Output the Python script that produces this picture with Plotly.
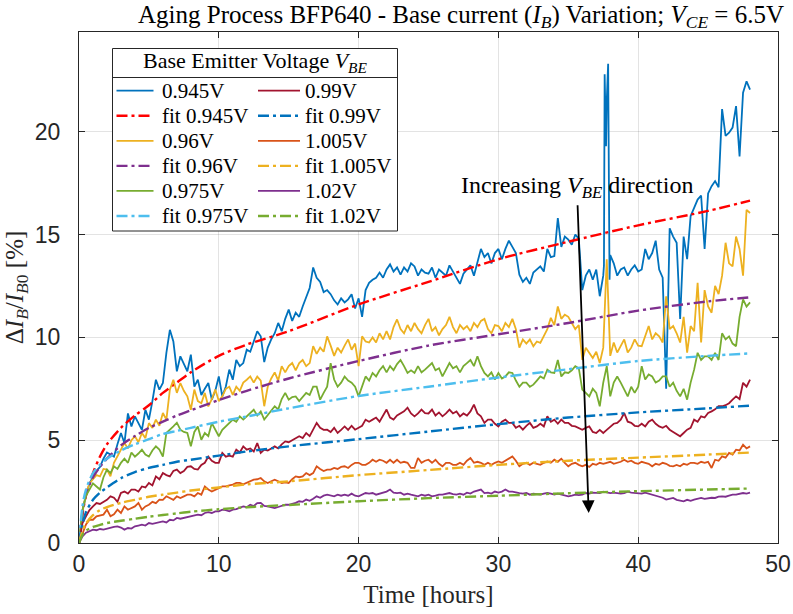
import numpy as np
import plotly.graph_objects as go

# ---------------- data (hours, % change) ----------------
T = np.round(np.arange(0, 48.001, 0.25), 2)

V0945 = [
    0, 1.6, 2.3, 2.9,            # 0
    3.2, 3.5, 3.7, 4.1,          # 1
    4.4, 4.3, 4.2, 4.8,          # 2
    5.35, 4.86, 6.3, 5.67,       # 3
    6.16, 5.83, 5.5, 6.48,       # 4
    6.0, 6.9, 7.94, 7.46,        # 5
    7.78, 9.24, 10.37, 9.8,      # 6
    8.35, 9.08, 8.75, 8.35,      # 7
    9.16, 7.6, 7.94, 7.2,        # 8
    7.5, 7.78, 6.97, 7.4,        # 9
    8.1, 7.13, 7.6, 8.43,        # 10
    7.94, 8.9, 8.6, 8.75,        # 11
    9.4, 9.3, 9.8, 10.3,         # 12
    10.05, 8.8, 9.5, 9.9,        # 13
    10.2, 10.7, 10.3, 10.9,      # 14
    11.35, 10.8, 11.2, 11.0,     # 15
    11.5, 12.0, 12.4, 13.4,      # 16
    12.9, 12.7, 12.2, 12.3,      # 17
    12.1, 11.8, 11.6, 11.9,      # 18
    11.7, 11.85, 12.1, 11.4,     # 19
    11.9, 11.0, 12.3, 12.65,     # 20
    12.8, 12.9, 13.15, 12.9,     # 21
    13.3, 13.55, 13.2, 13.4,     # 22
    13.05, 13.4, 13.2, 13.6,     # 23
    13.45, 13.0, 13.3, 13.15,    # 24
    13.1, 13.4, 12.9, 13.3,      # 25
    13.15, 13.0, 13.5, 13.2,     # 26
    12.9, 12.6, 13.1, 13.3,      # 27
    13.5, 13.0, 13.7, 14.3,      # 28
    13.9, 14.1, 13.6, 14.1,      # 29
    14.3, 13.8, 14.3, 14.7,      # 30
    14.4, 14.1, 13.05, 12.7,     # 31
    12.9, 12.6, 13.15, 13.3,     # 32
    13.45, 13.2, 14.3, 13.9,     # 33
    13.95, 15.8, 14.4, 14.9,     # 34
    14.75, 14.5, 15.0, 14.8,     # 35
    12.3, 13.0, 13.3, 12.8,      # 36
    13.3, 12.0, 13.0, 21.5,      # 37
    14.0, 13.6, 13.0, 13.3,      # 38
    13.4, 13.0, 13.3, 13.5,      # 39
    13.2, 13.3, 14.3, 13.8,      # 40
    14.1, 14.7, 13.3, 12.9,      # 41
    7.5, 15.3, 14.9, 14.6,       # 42
    10.9, 14.9, 13.8, 15.9,      # 43
    16.3, 16.7, 16.9, 14.3,      # 44
    17.0, 17.35, 17.6, 17.3,     # 45
    21.1, 19.8, 19.95, 20.2,     # 46
    21.25, 18.8, 21.9, 22.45,    # 47
    22.05,
]
SPIKE_T = [37.55, 37.6, 37.7, 37.85, 37.95]
SPIKE_V0945 = [13.5, 22.8, 19.3, 23.3, 12.8]

V0960 = [
    0, 1.5, 2.4, 2.9,            # 0
    3.1, 3.3, 3.24, 3.6,         # 1
    3.57, 3.24, 3.9, 4.2,        # 2
    4.5, 4.86, 4.6, 5.0,         # 3
    5.19, 4.9, 5.35, 5.1,        # 4
    5.83, 5.6, 6.0, 5.7,         # 5
    6.32, 6.0, 7.46, 7.94,       # 6
    7.3, 7.78, 7.4, 7.13,        # 7
    6.48, 7.46, 6.9, 6.8,        # 8
    7.3, 6.64, 7.0, 7.46,        # 9
    6.9, 7.13, 7.5, 7.6,         # 10
    7.2, 7.6, 7.4, 7.8,          # 11
    7.94, 8.1, 7.8, 8.1,         # 12
    7.9, 6.65, 7.6, 8.0,         # 13
    8.3, 7.9, 8.6, 8.3,          # 14
    8.6, 8.75, 8.4, 8.75,        # 15
    8.9, 8.6, 8.75, 9.57,        # 16
    9.2, 9.5, 9.3, 10.05,        # 17
    9.6, 9.1, 9.5, 9.26,         # 18
    9.6, 9.9, 9.4, 9.7,          # 19
    8.6, 10.05, 9.8, 9.75,       # 20
    10.0, 9.75, 10.2, 9.9,       # 21
    10.3, 9.9, 10.5, 10.87,      # 22
    10.4, 10.2, 10.6, 10.3,      # 23
    10.7, 10.4, 10.2, 10.6,      # 24
    10.9, 10.3, 10.5, 10.1,      # 25
    10.4, 10.6, 11.0, 10.5,      # 26
    10.2, 10.6, 10.4, 10.55,     # 27
    10.3, 10.7, 10.5, 10.8,      # 28
    10.9, 10.4, 10.2, 10.6,      # 29
    10.55, 10.3, 10.7, 10.5,     # 30
    10.9, 10.4, 9.5, 9.9,        # 31
    9.7, 9.9, 9.57, 9.8,         # 32
    9.73, 10.1, 10.4, 10.95,     # 33
    10.6, 11.5, 10.9, 11.1,      # 34
    11.0, 10.7, 10.4, 10.6,      # 35
    8.9, 9.5, 9.26, 9.0,         # 36
    9.3, 8.75, 9.5, 13.8,        # 37
    9.1, 9.75, 9.26, 9.6,        # 38
    9.9, 9.26, 9.5, 9.9,         # 39
    9.6, 9.57, 10.1, 10.55,      # 40
    9.9, 10.2, 10.05, 9.75,      # 41
    12.0, 10.4, 10.55, 10.2,     # 42
    9.75, 11.0, 9.26, 10.55,     # 43
    10.3, 12.65, 9.75, 12.3,     # 44
    11.5, 11.2, 12.5, 12.1,      # 45
    13.0, 14.6, 13.6, 13.45,     # 46
    14.9, 14.3, 13.0, 16.2,      # 47
    16.05,
]

V0975 = [
    0, 1.6, 2.3, 2.6,            # 0
    2.9, 2.75, 2.6, 3.2,         # 1
    3.57, 3.4, 3.73, 3.6,        # 2
    3.9, 4.1, 3.9, 4.4,          # 3
    4.2, 4.35, 4.54, 4.3,        # 4
    4.2, 4.5, 4.7, 4.54,         # 5
    4.2, 5.35, 5.5, 5.67,        # 6
    5.85, 5.51, 5.4, 5.35,       # 7
    4.7, 5.4, 5.67, 5.02,        # 8
    5.35, 5.2, 5.83, 5.5,        # 9
    5.19, 5.5, 5.67, 5.85,       # 10
    6.0, 5.9, 6.16, 6.0,         # 11
    6.16, 6.32, 6.48, 6.2,       # 12
    6.4, 6.0, 6.2, 6.4,          # 13
    6.65, 6.5, 7.0, 7.3,         # 14
    6.97, 7.1, 7.13, 6.9,        # 15
    7.13, 7.3, 7.2, 7.6,         # 16
    7.6, 6.97, 7.3, 7.6,         # 17
    8.75, 7.95, 7.6, 7.8,        # 18
    8.1, 7.9, 7.8, 7.6,          # 19
    7.13, 7.6, 8.1, 7.9,         # 20
    8.27, 8.1, 8.4, 8.6,         # 21
    8.3, 8.6, 8.4, 8.7,          # 22
    8.9, 8.6, 8.27, 8.4,         # 23
    8.27, 8.6, 8.3, 8.43,        # 24
    8.6, 8.75, 8.4, 8.5,         # 25
    8.1, 8.4, 8.75, 8.5,         # 26
    8.6, 8.3, 8.6, 8.75,         # 27
    8.9, 8.6, 9.08, 8.6,         # 28
    8.27, 8.1, 8.3, 7.95,        # 29
    8.27, 8.0, 8.1, 8.3,         # 30
    8.27, 7.9, 7.6, 7.8,         # 31
    7.8, 7.6, 7.7, 7.9,          # 32
    8.1, 8.0, 8.43, 8.3,         # 33
    8.27, 8.9, 8.1, 8.3,         # 34
    8.27, 8.4, 8.6, 8.5,         # 35
    7.46, 7.3, 7.13, 7.5,        # 36
    7.3, 6.65, 7.8, 8.6,         # 37
    7.13, 7.8, 8.1, 7.8,         # 38
    7.46, 7.13, 7.6, 7.3,        # 39
    7.6, 8.6, 7.95, 8.2,         # 40
    8.1, 7.8, 7.9, 8.1,          # 41
    8.1, 7.6, 7.8, 7.4,          # 42
    7.13, 7.5, 6.97, 7.8,        # 43
    8.43, 9.25, 8.9, 9.08,       # 44
    9.08, 8.9, 9.25, 8.9,        # 45
    10.2, 9.9, 10.05, 9.7,       # 46
    9.57, 11.0, 11.85, 11.5,     # 47
    11.7,
]

V0990 = [
    0, 0.97, 1.3, 1.6,           # 0
    1.78, 1.94, 1.9, 2.0,        # 1
    2.1, 2.27, 2.2, 2.0,         # 2
    2.43, 2.5, 2.4, 2.6,         # 3
    2.6, 2.5, 2.75, 2.7,         # 4
    2.92, 2.8, 3.24, 3.1,        # 5
    3.4, 3.3, 3.24, 3.5,         # 6
    3.57, 3.4, 3.5, 3.7,         # 7
    3.73, 3.6, 3.57, 3.8,        # 8
    3.9, 4.2, 4.0, 3.9,          # 9
    3.9, 4.38, 4.2, 4.25,        # 10
    4.2, 4.54, 4.4, 4.7,         # 11
    4.54, 4.6, 4.45, 4.86,       # 12
    4.38, 4.54, 4.5, 4.6,        # 13
    4.7, 4.6, 4.8, 4.94,         # 14
    4.9, 5.0, 5.1, 5.19,         # 15
    5.1, 5.35, 5.2, 5.5,         # 16
    5.84, 5.6, 5.5, 5.51,        # 17
    5.4, 5.6, 5.35, 5.5,         # 18
    5.67, 5.5, 5.7, 5.51,        # 19
    5.6, 5.7, 6.0, 5.9,          # 20
    6.0, 6.1, 5.9, 6.2,          # 21
    6.49, 6.1, 6.0, 6.2,         # 22
    6.32, 6.4, 6.58, 6.3,        # 23
    6.16, 6.3, 6.49, 6.32,       # 24
    6.3, 6.49, 6.2, 6.35,        # 25
    6.16, 6.3, 6.49, 6.3,        # 26
    6.4, 6.16, 6.3, 6.2,         # 27
    6.4, 6.73, 6.3, 6.16,        # 28
    5.84, 6.0, 6.0, 5.8,         # 29
    5.67, 5.9, 6.0, 5.84,        # 30
    5.84, 5.6, 5.7, 5.51,        # 31
    5.7, 5.84, 5.6, 5.67,        # 32
    5.8, 5.67, 6.16, 5.9,        # 33
    6.0, 5.8, 6.0, 5.84,         # 34
    5.84, 5.7, 5.67, 5.6,        # 35
    5.51, 5.6, 5.67, 5.4,        # 36
    5.35, 5.5, 5.35, 5.5,        # 37
    5.67, 5.8, 5.84, 6.0,        # 38
    6.32, 5.9, 5.84, 5.7,        # 39
    5.67, 5.8, 5.67, 5.9,        # 40
    6.0, 5.8, 5.67, 5.6,         # 41
    5.7, 5.51, 5.4, 5.3,         # 42
    5.19, 5.35, 5.51, 5.6,       # 43
    6.0, 5.9, 6.16, 6.1,         # 44
    6.32, 6.4, 6.5, 6.65,        # 45
    6.65, 6.7, 6.8, 6.97,        # 46
    7.13, 7.0, 7.79, 7.6,        # 47
    7.95,
]

V1005 = [
    0, 0.49, 0.9, 1.13,          # 0
    1.13, 1.3, 1.35, 1.38,       # 1
    1.62, 1.3, 1.4, 1.62,        # 2
    1.46, 1.78, 1.62, 1.7,       # 3
    1.78, 1.95, 1.62, 1.78,      # 4
    1.86, 2.0, 1.94, 2.11,       # 5
    2.1, 2.27, 2.19, 2.1,        # 6
    2.27, 2.19, 2.27, 2.35,      # 7
    2.35, 2.27, 2.43, 2.35,      # 8
    2.75, 2.6, 2.5, 2.6,         # 9
    2.67, 2.75, 2.75, 2.8,       # 10
    2.84, 2.92, 2.92, 2.85,      # 11
    2.92, 3.0, 3.08, 3.1,        # 12
    3.16, 3.0, 2.92, 3.0,        # 13
    3.08, 3.0, 2.92, 2.95,       # 14
    2.92, 3.1, 3.24, 3.2,        # 15
    3.24, 3.4, 3.3, 3.4,         # 16
    3.73, 3.6, 3.5, 3.57,        # 17
    3.57, 3.65, 3.6, 3.7,        # 18
    3.73, 3.65, 3.8, 3.9,        # 19
    3.9, 3.8, 3.8, 3.9,          # 20
    4.05, 3.95, 4.05, 4.0,       # 21
    3.9, 4.05, 3.9, 4.05,        # 22
    3.9, 3.95, 3.9, 3.65,        # 23
    3.65, 4.13, 3.9, 4.0,        # 24
    4.05, 3.9, 4.05, 3.85,       # 25
    3.73, 3.9, 3.9, 3.8,         # 26
    3.8, 3.9, 3.8, 4.0,          # 27
    4.13, 3.9, 3.95, 3.9,        # 28
    3.8, 3.9, 3.8, 3.9,          # 29
    3.97, 3.9, 4.0, 4.1,         # 30
    4.21, 4.0, 3.73, 3.85,       # 31
    3.9, 3.8, 3.9, 3.85,         # 32
    3.8, 3.9, 3.97, 3.9,         # 33
    4.05, 3.95, 4.1, 3.9,        # 34
    3.73, 3.85, 3.9, 3.8,        # 35
    3.73, 3.8, 3.7, 3.85,        # 36
    3.8, 3.9, 3.85, 3.9,         # 37
    3.95, 3.85, 3.9, 3.95,       # 38
    4.05, 3.95, 4.0, 3.9,        # 39
    3.85, 3.95, 3.9, 3.85,       # 40
    3.73, 3.85, 3.8, 3.9,        # 41
    3.85, 3.75, 3.73, 3.8,       # 42
    3.73, 3.85, 3.8, 3.9,        # 43
    3.9, 3.85, 3.95, 3.9,        # 44
    3.95, 3.65, 4.05, 4.0,       # 45
    4.21, 4.15, 4.38, 4.3,       # 46
    4.54, 4.5, 4.78, 4.6,        # 47
    4.7,
]

V1020 = [
    0, 0.32, 0.5, 0.57,          # 0
    0.65, 0.62, 0.68, 0.65,      # 1
    0.7, 0.73, 0.78, 0.81,       # 2
    0.75, 0.65, 0.73, 0.7,       # 3
    0.81, 0.85, 0.89, 0.85,      # 4
    0.97, 0.93, 0.97, 1.0,       # 5
    1.05, 1.0, 1.13, 1.1,        # 6
    1.22, 1.18, 1.22, 1.25,      # 7
    1.3, 1.35, 1.38, 1.35,       # 8
    1.46, 1.5, 1.46, 1.54,       # 9
    1.54, 1.62, 1.6, 1.54,       # 10
    1.62, 1.65, 1.7, 1.78,       # 11
    1.74, 1.86, 1.8, 1.94,       # 12
    1.95, 1.8, 1.78, 1.75,       # 13
    1.7, 1.75, 1.8, 1.86,        # 14
    1.86, 1.9, 1.95, 2.03,       # 15
    2.0, 2.11, 2.05, 2.15,       # 16
    2.27, 2.2, 2.3, 2.35,        # 17
    2.3, 2.27, 2.35, 2.3,        # 18
    2.35, 2.3, 2.4, 2.3,         # 19
    2.27, 2.35, 2.43, 2.4,       # 20
    2.43, 2.35, 2.4, 2.45,       # 21
    2.5, 2.6, 2.45, 2.43,        # 22
    2.45, 2.35, 2.4, 2.35,       # 23
    2.3, 2.27, 2.35, 2.3,        # 24
    2.35, 2.27, 2.3, 2.35,       # 25
    2.35, 2.4, 2.43, 2.38,       # 26
    2.35, 2.4, 2.35, 2.45,       # 27
    2.4, 2.5, 2.55, 2.6,         # 28
    2.43, 2.45, 2.4, 2.5,        # 29
    2.45, 2.5, 2.6, 2.5,         # 30
    2.5, 2.45, 2.43, 2.4,        # 31
    2.43, 2.35, 2.4, 2.38,       # 32
    2.35, 2.4, 2.43, 2.4,        # 33
    2.35, 2.4, 2.35, 2.3,        # 34
    2.27, 2.3, 2.35, 2.33,       # 35
    2.35, 2.43, 2.4, 2.45,       # 36
    2.45, 2.43, 2.5, 2.45,       # 37
    2.43, 2.45, 2.43, 2.4,       # 38
    2.43, 2.5, 2.45, 2.43,       # 39
    2.43, 2.4, 2.45, 2.4,        # 40
    2.35, 2.3, 2.27, 2.2,        # 41
    2.11, 2.15, 2.19, 2.1,       # 42
    2.05, 2.03, 2.1, 2.05,       # 43
    2.11, 2.15, 2.19, 2.15,      # 44
    2.19, 2.2, 2.19, 2.25,       # 45
    2.27, 2.25, 2.3, 2.35,       # 46
    2.35, 2.4, 2.43, 2.4,        # 47
    2.45,
]

# fitted curves
FIT_T = [0, 0.25, 0.5, 1, 1.5, 2, 3, 4, 5, 6, 7, 8, 10, 12, 15, 20, 25, 30, 35, 40, 45, 48]
FIT0945 = [0, 1.4, 2.3, 3.4, 4.2, 4.8, 5.6, 6.2, 6.7, 7.3, 7.8, 8.3, 9.1, 9.65, 10.3, 11.6, 12.7, 13.8, 14.65, 15.45, 16.15, 16.65]
FIT0960 = [0, 1.5, 2.4, 3.2, 3.7, 4.1, 4.75, 5.2, 5.6, 5.9, 6.2, 6.45, 6.95, 7.4, 8.0, 8.85, 9.6, 10.15, 10.7, 11.3, 11.75, 11.95]
FIT0975 = [0, 1.8, 2.6, 3.4, 3.8, 4.1, 4.5, 4.8, 5.05, 5.3, 5.45, 5.6, 5.9, 6.15, 6.55, 7.15, 7.6, 8.05, 8.45, 8.85, 9.1, 9.22]
FIT0990 = [0, 0.9, 1.5, 2.1, 2.45, 2.7, 3.15, 3.45, 3.65, 3.8, 3.95, 4.05, 4.25, 4.45, 4.7, 5.05, 5.42, 5.78, 6.1, 6.35, 6.55, 6.68]
FIT1005 = [0, 0.6, 0.95, 1.35, 1.6, 1.75, 1.95, 2.1, 2.25, 2.35, 2.45, 2.55, 2.7, 2.85, 3.0, 3.3, 3.55, 3.8, 4.0, 4.15, 4.3, 4.4]
FIT1020 = [0, 0.4, 0.6, 0.78, 0.88, 0.97, 1.08, 1.18, 1.28, 1.36, 1.44, 1.52, 1.64, 1.74, 1.85, 2.03, 2.18, 2.3, 2.42, 2.52, 2.6, 2.65]

LABELS = ["0.945V", "0.96V", "0.975V", "0.99V", "1.005V", "1.02V"]
DATA_COLORS = ["#0072BD", "#EDB120", "#77AC30", "#A2142F", "#D95319", "#7E2F8E"]
FIT_COLORS = ["#FF0000", "#7E2F8E", "#4DBEEE", "#0072BD", "#EDB120", "#77AC30"]

# merge the narrow spike samples of the 0.945 V record
t_b = np.concatenate([T, SPIKE_T])
v_b = np.concatenate([np.array(V0945, float), SPIKE_V0945])
order = np.argsort(t_b, kind="stable")
series_data = [
    (t_b[order], v_b[order]),
    (T, V0960), (T, V0975), (T, V0990), (T, V1005), (T, V1020),
]
series_fit = [FIT0945, FIT0960, FIT0975, FIT0990, FIT1005, FIT1020]

FIT_DASH = "11px,4px,3px,4px"
SERIF = "Liberation Serif"
SANS = "Liberation Sans"

fig = go.Figure()
for (tt, vv), fv, lab, dc, fc in zip(series_data, series_fit, LABELS, DATA_COLORS, FIT_COLORS):
    fig.add_trace(go.Scatter(x=tt, y=vv, mode="lines", name=lab,
                             line=dict(color=dc, width=1.8), showlegend=False))
    fig.add_trace(go.Scatter(x=FIT_T, y=fv, mode="lines", name="fit " + lab,
                             line=dict(color=fc, width=2.4, dash=FIT_DASH, shape="spline", smoothing=0.8),
                             showlegend=False))

# ---------------- manual two-column legend ----------------
W, H = 793, 614
ML, MR, MT, MB = 79, 15, 32, 71
PW, PH = W - ML - MR, H - MT - MB


def px(xp):
    return (xp - ML) / PW


def py(yp):
    return (H - MB - yp) / PH


shapes = [dict(type="rect", xref="paper", yref="paper", layer="above",
               x0=px(112.5), x1=px(397.5), y0=py(231), y1=py(48.5),
               line=dict(color="#262626", width=1), fillcolor="white"),
          dict(type="line", xref="paper", yref="paper", layer="above",
               x0=px(112.5), x1=px(397.5), y0=py(77.5), y1=py(77.5),
               line=dict(color="#262626", width=1))]
annotations = [dict(xref="paper", yref="paper", x=px(255), y=py(62),
                    text="Base Emitter Voltage <i>V</i><sub><i>BE</i></sub>",
                    showarrow=False, xanchor="center", yanchor="middle",
                    font=dict(family=SERIF, size=22, color="black"))]

entries = []
for lab, dc, fc in zip(LABELS, DATA_COLORS, FIT_COLORS):
    entries.append((lab, dc, "solid", 1.8))
    entries.append(("fit " + lab, fc, FIT_DASH, 2.4))
col_x = [(116.5, 153.5, 160), (258, 300, 302.5)]
for i, (txt, col, dash, wd) in enumerate(entries):
    c = i // 6
    r = i % 6
    yc = 90.7 + r * 25.06
    x0, x1, xt = col_x[c]
    shapes.append(dict(type="line", xref="paper", yref="paper", layer="above",
                       x0=px(x0), x1=px(x1), y0=py(yc), y1=py(yc),
                       line=dict(color=col, width=wd, dash=dash)))
    annotations.append(dict(xref="paper", yref="paper", x=px(xt), y=py(yc),
                            text=txt, showarrow=False, xanchor="left", yanchor="middle",
                            font=dict(family=SERIF, size=21, color="black")))

# direction arrow and its label
annotations.append(dict(x=36.46, y=1.46, ax=35.66, ay=16.5, xref="x", yref="y",
                        axref="x", ayref="y", text="", showarrow=True,
                        arrowhead=2, arrowsize=1.4, arrowwidth=1.8, arrowcolor="black",
                        standoff=0, startstandoff=0))
annotations.append(dict(x=35.62, y=17.3, xref="x", yref="y", showarrow=False,
                        text="Increasing <i>V</i><sub><i>BE</i></sub> direction",
                        xanchor="center", yanchor="middle",
                        font=dict(family=SERIF, size=24, color="black")))

axis_common = dict(showline=True, linecolor="#262626", linewidth=1, mirror="ticks",
                   ticks="inside", ticklen=6, tickcolor="#262626", automargin=False,
                   showgrid=True, gridcolor="rgba(38,38,38,0.13)", gridwidth=1,
                   zeroline=False, tickfont=dict(family=SANS, size=23, color="#262626"))

fig.update_layout(
    width=W, height=H, margin=dict(l=ML, r=MR, t=MT, b=MB),
    plot_bgcolor="white", paper_bgcolor="white", showlegend=False,
    title=dict(text="Aging Process BFP640 - Base current (<i>I<sub>B</sub></i>) Variation; "
                    "<i>V<sub>CE</sub></i> = 6.5V",
               x=px(461), xref="paper", xanchor="center", y=1 - 14 / H, yref="container",
               yanchor="middle", font=dict(family=SERIF, size=25, color="black")),
    xaxis=dict(range=[0, 50], tickvals=[0, 10, 20, 30, 40, 50],
               title=dict(text="Time [hours]", font=dict(family=SERIF, size=25, color="#262626"), standoff=9),
               **axis_common),
    yaxis=dict(range=[0, 24.85], tickvals=[0, 5, 10, 15, 20], ticklabelstandoff=13,
               title=dict(text="Δ<i>I<sub>B</sub></i>/<i>I</i><sub><i>B</i>0</sub> [%]",
                          font=dict(family=SERIF, size=25, color="#262626"), standoff=4),
               **axis_common),
    shapes=shapes, annotations=annotations,
)

fig.write_html("out.html")
